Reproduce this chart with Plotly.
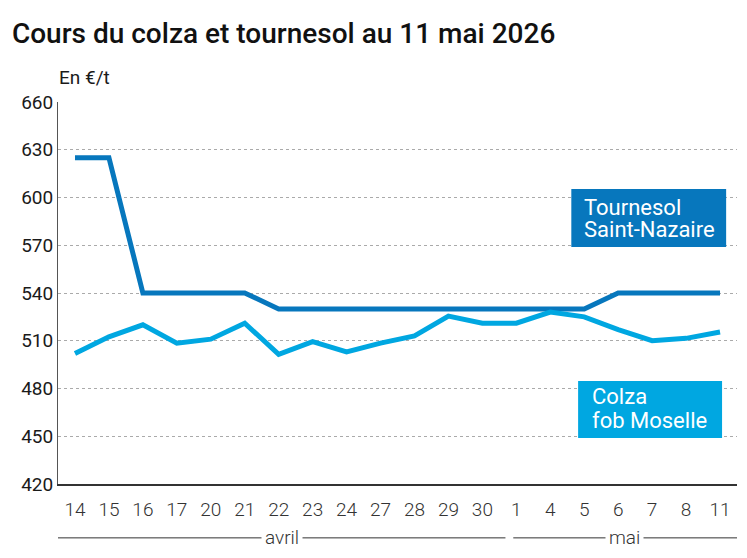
import plotly.graph_objects as go

# dates (jour) et cours en €/t
jours = ["14", "15", "16", "17", "20", "21", "22", "23", "24", "27",
         "28", "29", "30", "1", "4", "5", "6", "7", "8", "11"]
tournesol = [625, 625, 540, 540, 540, 540, 530, 530, 530, 530,
             530, 530, 530, 530, 530, 530, 540, 540, 540, 540]
colza = [502, 512.5, 520, 508.5, 511, 521, 501.5, 509.5, 503, 508.5,
         513, 525.5, 521, 521, 528, 525, 517, 510, 511.5, 515.5]
mois = ["avril", "mai"]
etiquettes = [["Tournesol", "Saint-Nazaire"], ["Colza", "fob Moselle"]]

BLEU_FONCE = "#0777BD"
BLEU_CLAIR = "#00A7E1"

x = list(range(len(jours)))

fig = go.Figure()
fig.add_trace(go.Scatter(x=x, y=tournesol, mode="lines",
                         line=dict(color=BLEU_FONCE, width=5), hoverinfo="y"))
fig.add_trace(go.Scatter(x=x, y=colza, mode="lines",
                         line=dict(color=BLEU_CLAIR, width=5), hoverinfo="y"))

fig.update_layout(
    width=747, height=558,
    margin=dict(l=58, r=10, t=102, b=74),
    paper_bgcolor="white", plot_bgcolor="white",
    showlegend=False,
    font=dict(family="Roboto", color="#1a1a1a", size=19),
    title=dict(text="Cours du colza et tournesol au 11 mai 2026",
               x=0.016, xanchor="left", y=0.941, yanchor="middle",
               font=dict(family="Roboto", size=28, weight=500, color="#111")),
)

fig.update_xaxes(
    range=[-0.5, len(jours) - 0.5],
    tickmode="array", tickvals=x, ticktext=jours,
    showgrid=False, zeroline=False, showline=True,
    linecolor="#333", linewidth=1.5, ticks="", ticklen=0,
    ticklabelstandoff=7,
    tickfont=dict(size=19, weight=300, color="#333"),
)
fig.update_yaxes(
    range=[420, 660], tickvals=list(range(420, 661, 30)),
    showgrid=True, gridcolor="#aaaaaa", griddash="dot", gridwidth=1,
    zeroline=False, showline=True, linecolor="#555", linewidth=1,
    ticks="", tickfont=dict(size=19, color="#1a1a1a"),
)

# unité
fig.add_annotation(text="En €/t", xref="paper", yref="paper", x=-0.002, y=1.03,
                   xanchor="left", yanchor="bottom", showarrow=False,
                   font=dict(size=19))

# étiquettes des séries : cadre + deux lignes de texte
boites = [
    dict(x0=14.62, x1=19.18, y0=568.9, y1=605.3, tx=14.94, ty=[594.0, 580.2],
         couleur=BLEU_FONCE),
    dict(x0=14.82, x1=19.06, y0=448.9, y1=484.7, tx=15.16, ty=[474.7, 460.0],
         couleur=BLEU_CLAIR),
]
for b, lignes in zip(boites, etiquettes):
    fig.add_shape(type="rect", x0=b["x0"], x1=b["x1"], y0=b["y0"], y1=b["y1"],
                  fillcolor=b["couleur"], line=dict(width=0), layer="above")
    for ligne, ty in zip(lignes, b["ty"]):
        fig.add_annotation(text=ligne, x=b["tx"], y=ty, xanchor="left",
                           yanchor="middle", showarrow=False,
                           font=dict(color="white", size=22))

# mois sous l'axe
y_mois = -0.141
fig.add_shape(type="line", xref="x", yref="paper", x0=-0.5, x1=12.68,
              y0=y_mois, y1=y_mois, line=dict(color="#333", width=1))
fig.add_shape(type="line", xref="x", yref="paper", x0=12.91, x1=19.56,
              y0=y_mois, y1=y_mois, line=dict(color="#333", width=1))
for nom, xc in zip(mois, [6.09, 16.18]):
    fig.add_annotation(text=nom, x=xc, xref="x", yref="paper", y=y_mois,
                       yanchor="middle", showarrow=False, bgcolor="white",
                       borderpad=3,
                       font=dict(size=19, weight=300, color="#333"))

fig.write_html("out.html", config={"displayModeBar": False},
               post_script="document.body.style.margin='0';")
